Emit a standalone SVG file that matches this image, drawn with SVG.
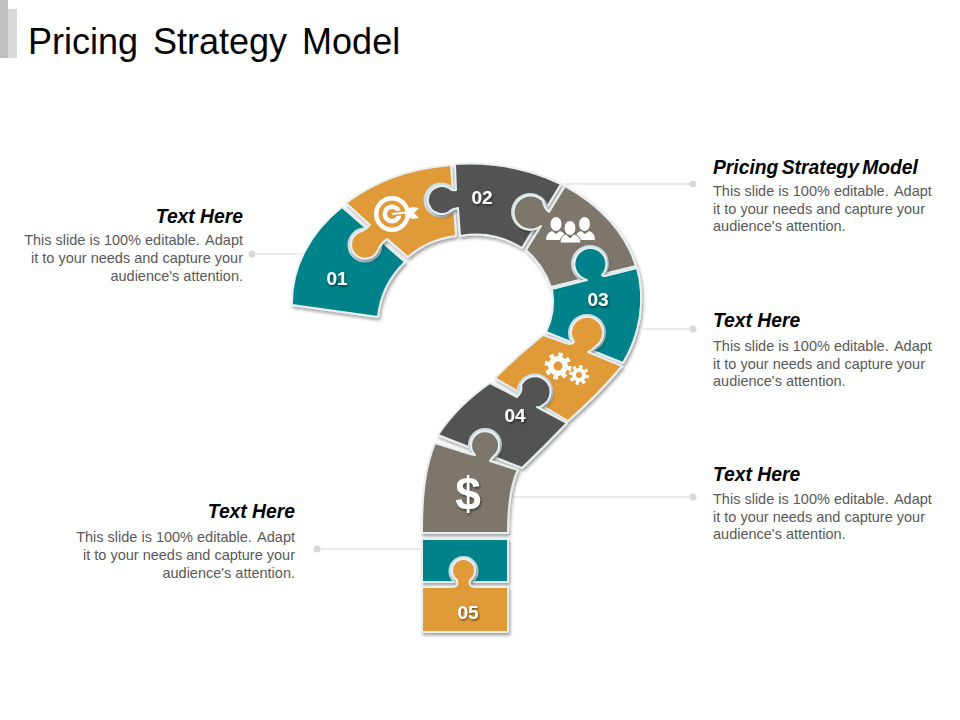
<svg xmlns="http://www.w3.org/2000/svg" width="960" height="720" viewBox="0 0 960 720">
<defs>
<filter id="sh" x="-20%" y="-20%" width="140%" height="140%"><feDropShadow dx="1.5" dy="2.5" stdDeviation="1.8" flood-color="#000" flood-opacity=".35"/></filter>
<filter id="ts" x="-30%" y="-30%" width="170%" height="170%"><feDropShadow dx="1" dy="1.5" stdDeviation="1" flood-color="#000" flood-opacity=".55"/></filter>
</defs>
<style>
text{font-family:"Liberation Sans",Arial,sans-serif}
.p{stroke:#e8eff1;stroke-width:2;stroke-linejoin:round;filter:url(#sh)}
.sk{fill:#cfe0e4}
.teal{fill:#01828a}.or{fill:#e09a38}.gr{fill:#525252}.ta{fill:#7d766b}
.h{font-size:19.3px;font-weight:bold;font-style:italic;fill:#000}
.b{font-size:14.5px;fill:#595959}
.r{text-anchor:end}
.n{font-size:19px;font-weight:bold;fill:#fff;text-anchor:middle;filter:url(#ts)}
.ln{stroke:#d9d9d9;stroke-width:1;fill:none}
.dot{fill:#d9d9d9}
.w{fill:#fff}
</style>
<rect width="960" height="720" fill="#fff"/>
<g id="header"><rect x="0" y="0" width="8" height="58" fill="#bfbfbf"/><rect x="8" y="9" width="9" height="49" fill="#d9d9d9"/>
<text x="28" y="54" font-size="36" word-spacing="5" fill="#000">Pricing Strategy Model</text></g>
<g id="connectors">
<path class="ln" d="M252 254H303M565 184H693M643 329H693M513 497H693M317 549H422"/>
<circle class="dot" cx="252" cy="254" r="3.500"/><circle class="dot" cx="693" cy="184" r="3.500"/><circle class="dot" cx="693" cy="329" r="3.500"/><circle class="dot" cx="693" cy="497" r="3.500"/><circle class="dot" cx="317" cy="549" r="3.500"/>
</g>
<g id="piece-01"><path class="p teal" d="M292 305A176 137 0 0 1 342 207L405 262A88 88 0 0 0 378 317Z"/>
<circle class="sk" cx="365" cy="245" r="17.500"/></g>
<g id="piece-target"><path class="p or" d="M346 203A176 137 0 0 1 451 165L456 236A88 88 0 0 0 408 257L387 239Q381 243 378 250A14 14 0 1 1 359 232Q364 231 370 225Z"/>
<circle class="sk" cx="441" cy="200" r="17.500"/>
<circle class="w" cx="392" cy="214" r="18"/><circle class="or" cx="392" cy="214" r="13.500"/><circle class="w" cx="392" cy="214" r="9.500"/><circle class="or" cx="392" cy="214" r="5"/>
<path d="M392 214L410 212" stroke="#e09a38" stroke-width="5"/><path d="M392 214L411 212" stroke="#fff" stroke-width="2"/>
<path class="w" d="M405 209L413 207L419 208L414 213L419 218L412 219L405 215Z"/></g>
<g id="piece-02"><path class="p gr" d="M455 164A176 137 0 0 1 561 184L522 248A88 88 0 0 0 460 236L458 208Q452 209 449 212A14 14 0 1 1 449 188Q452 191 456 190Z"/>
<circle class="sk" cx="530" cy="212" r="19"/>
<text class="n" x="482" y="204">02</text></g>
<g id="piece-people"><path class="p ta" d="M565 186A176 137 0 0 1 636 266L551 287A88 88 0 0 0 526 250L541 226A17 17 0 1 1 543 201Q544 208 549 212Z"/>
<circle class="sk" cx="590" cy="264" r="19"/>
<ellipse class="w" cx="556" cy="224" rx="5.500" ry="7"/><path class="w" d="M546 240Q546 233 552 231L556 234L560 231Q566 233 566 240Z"/>
<ellipse class="w" cx="584.500" cy="224" rx="5.500" ry="7"/><path class="w" d="M575 240Q575 233 581 231L585 234L589 231Q595 233 595 240Z"/>
<ellipse class="w" cx="570" cy="228" rx="6" ry="7.500" stroke="#7d766b"/><path class="w" stroke="#7d766b" d="M560 243Q560 236 566 234L570 238L574 234Q581 236 581 243Z"/></g>
<g id="piece-03"><path class="p teal" d="M552 289L587 280Q584 279 581 277A16 16 0 1 1 602 275Q602 276 605 276L637 268C646 300 640 335 623 363L546 332Q556 312 552 289Z"/>
<circle class="sk" cx="587" cy="333" r="19"/>
<text class="n" x="598" y="306">03</text></g>
<g id="piece-gears"><path class="p or" d="M543 335L569 344Q572 344 574 342A16 16 0 1 1 596 346Q593 350 588 352L622 366Q598 395 568 421L495 378Q518 355 543 335Z"/>
<circle class="sk" cx="535" cy="392" r="18.500"/>
<circle cx="558" cy="366" r="11" fill="none" stroke="#fff" stroke-width="5" stroke-dasharray="4.320 4.320"/><circle class="w" cx="558" cy="366" r="10"/><circle class="or" cx="558" cy="366" r="4.500"/>
<circle cx="579" cy="375" r="8" fill="none" stroke="#fff" stroke-width="4" stroke-dasharray="3.140 3.140"/><circle class="w" cx="579" cy="375" r="7"/><circle class="or" cx="579" cy="375" r="3"/></g>
<g id="piece-04"><path class="p gr" d="M490 383L517 397Q523 391 521 385A15.500 15.500 0 1 1 543 405Q540 408 537 407L567 423Q544 447 522 468L438 435Q458 405 490 383Z"/>
<circle class="sk" cx="485" cy="445" r="17"/>
<text class="n" x="515" y="422">04</text></g>
<g id="piece-dollar"><path class="p ta" d="M435 443L470 454Q474 455 475 455A14 14 0 1 1 494 456Q491 459 490 461L518 470Q508 490 508 533H422C422 490 426 465 435 443Z"/>
<text x="468" y="510" font-size="46" font-weight="bold" fill="#fff" text-anchor="middle" filter="url(#ts)">$</text></g>
<g id="piece-rect"><path class="p teal" d="M422 539H508V582H422Z"/>
<circle class="sk" cx="463.500" cy="571" r="15"/></g>
<g id="piece-05"><path class="p or" d="M422 587H452Q459 587 457 580A11.500 11.500 0 1 1 470 580Q468 587 475 587H508V632H422Z"/>
<text class="n" x="468" y="619">05</text></g>
<text class="n" x="337" y="285">01</text>
<g id="label-1"><text class="h" x="713" y="174" word-spacing="-2">Pricing Strategy Model</text>
<text class="b" x="713" y="196">This slide is 100% editable. <tspan dx="2">Adapt</tspan></text><text class="b" x="713" y="214">it to your needs and capture your</text><text class="b" x="713" y="231">audience's attention.</text></g>
<g id="label-2"><text class="h" x="713" y="327">Text Here</text>
<text class="b" x="713" y="351">This slide is 100% editable. <tspan dx="2">Adapt</tspan></text><text class="b" x="713" y="369">it to your needs and capture your</text><text class="b" x="713" y="386">audience's attention.</text></g>
<g id="label-3"><text class="h" x="713" y="481">Text Here</text>
<text class="b" x="713" y="504">This slide is 100% editable. <tspan dx="2">Adapt</tspan></text><text class="b" x="713" y="522">it to your needs and capture your</text><text class="b" x="713" y="539">audience's attention.</text></g>
<g id="label-4"><text class="h r" x="243" y="223">Text Here</text>
<text class="b r" x="243" y="245">This slide is 100% editable. <tspan dx="2">Adapt</tspan></text><text class="b r" x="243" y="263">it to your needs and capture your</text><text class="b r" x="243" y="281">audience's attention.</text></g>
<g id="label-5"><text class="h r" x="295" y="518">Text Here</text>
<text class="b r" x="295" y="542">This slide is 100% editable. <tspan dx="2">Adapt</tspan></text><text class="b r" x="295" y="560">it to your needs and capture your</text><text class="b r" x="295" y="578">audience's attention.</text></g>
</svg>
